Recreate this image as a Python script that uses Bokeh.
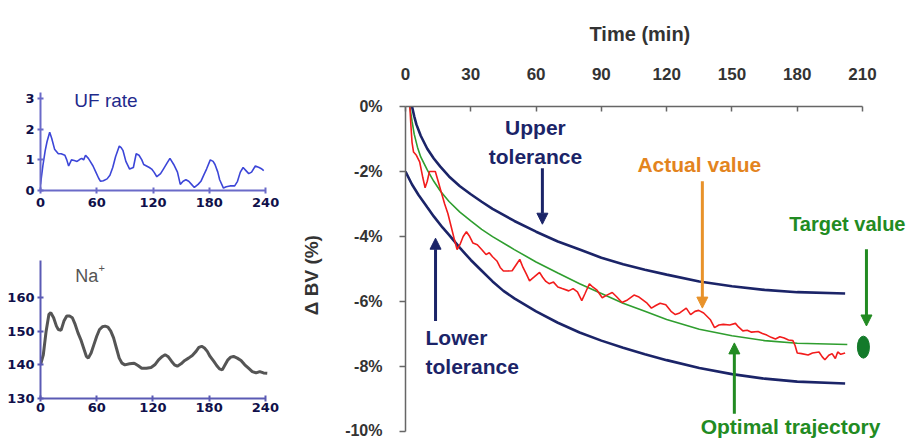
from bokeh.plotting import figure
from bokeh.layouts import row, column
from bokeh.models import Range1d, Label, Arrow, NormalHead
from bokeh.embed import file_html
from bokeh.resources import INLINE

# ---------------- data ----------------
uf_time = [0, 2.5, 5, 7, 9.8, 12, 15, 19, 22, 26, 28, 30, 33, 36, 39, 42, 44, 46, 48, 51, 53, 56, 59, 62, 64, 67,
           71, 74, 77, 80, 84, 86, 88, 91, 95, 99, 102, 105, 108, 110, 113, 116, 118.5, 121, 124, 128, 131, 135,
           138, 142, 146, 149, 152, 155, 158, 161, 164, 168, 171, 174, 177, 181, 184, 186, 189, 191, 195, 198,
           202, 207, 210, 213, 216, 219, 222, 225, 229, 233, 236, 238]
uf_rate = [0.2, 0.8, 1.3, 1.6, 1.9, 1.7, 1.35, 1.2, 1.2, 1.15, 1.0, 0.8, 1.0, 0.98, 0.95, 1.02, 1.05, 1.0, 1.15,
           1.05, 0.95, 0.8, 0.6, 0.4, 0.3, 0.32, 0.38, 0.5, 0.75, 1.1, 1.45, 1.4, 1.3, 0.95, 0.7, 0.75, 1.2, 1.15,
           1.0, 0.85, 0.8, 0.75, 0.7, 0.6, 0.45, 0.55, 0.7, 0.9, 1.05, 0.85, 0.6, 0.2, 0.3, 0.35, 0.3, 0.2, 0.1,
           0.2, 0.3, 0.5, 0.7, 1.0, 0.95, 0.85, 0.6, 0.35, 0.08, 0.12, 0.15, 0.15, 0.3, 0.6, 0.75, 0.65, 0.55,
           0.6, 0.8, 0.75, 0.7, 0.65]

na_time = [0, 3, 6, 9, 11, 14, 17, 19, 22, 25, 28, 31, 34, 37, 40, 43, 46, 49, 51, 54, 57, 60, 63, 66, 69, 72,
           75, 78, 81, 84, 87, 90, 95, 100, 104, 108, 113, 118, 122, 126, 130, 133, 136, 140, 143, 146, 150, 154,
           158, 162, 166, 169, 172, 175, 178, 181, 185, 188, 191, 194, 197, 200, 203, 206, 210, 214, 218, 222,
           226, 230, 234, 238, 242]
na_value = [140, 143, 150, 155, 155.5, 154, 151.5, 150.5, 150.3, 153, 154.5, 154.5, 154, 152, 149.5, 147.5, 145,
            142.5, 142, 143.5, 146, 148.5, 150.5, 151.3, 151.5, 151.2, 150, 148, 145, 142, 140.5, 140, 140.3,
            140.5, 139.8, 139, 139, 139.2, 140, 141.5, 142.5, 143, 142.5, 141, 140, 139.6, 140.3, 141.3, 142,
            142.8, 144, 145.2, 145.5, 145, 144, 142.5, 141, 139.8, 138.8, 138.5, 140, 141.5, 142.3, 142.5, 142,
            141.3, 140, 139, 138, 137.6, 138, 137.6, 137.5]

upper_time = [3, 4, 5, 7, 10, 13, 16, 20, 25, 30, 35, 40, 50, 60, 70, 80, 90, 100, 110, 120, 135, 150, 165, 180, 202]
upper_tol = [0, -0.3, -0.55, -0.9, -1.3, -1.6, -1.85, -2.15, -2.45, -2.7, -2.93, -3.15, -3.52, -3.85, -4.15, -4.4,
             -4.65, -4.85, -5.02, -5.17, -5.38, -5.53, -5.64, -5.71, -5.75]

lower_time = [0, 3, 6, 10, 13, 17, 20, 25, 30, 35, 40, 45, 50, 60, 70, 80, 90, 100, 110, 120, 135, 150, 165, 180, 202]
lower_tol = [-2.0, -2.4, -2.72, -3.1, -3.38, -3.72, -3.95, -4.35, -4.72, -5.05, -5.38, -5.67, -5.9, -6.3, -6.65,
             -6.95, -7.2, -7.42, -7.62, -7.8, -8.04, -8.23, -8.37, -8.46, -8.52]

optimal_time = [2, 3, 4, 5.5, 7, 10, 13, 16, 20, 25, 30, 35, 40, 50, 60, 70, 80, 90, 100, 110, 120, 135, 150, 165,
                180, 203]
optimal = [0, -0.45, -0.85, -1.25, -1.55, -1.95, -2.3, -2.6, -2.92, -3.25, -3.52, -3.78, -4.0, -4.4, -4.78, -5.12,
           -5.45, -5.75, -6.05, -6.3, -6.55, -6.85, -7.05, -7.2, -7.28, -7.32]

actual_time = [2, 2.5, 3, 3.7, 5, 6.5, 8, 9, 10, 11, 13.7, 15, 16.5, 18, 19.5, 21, 22.5, 23.7, 25, 26.5, 28, 29.5,
               31, 33, 35, 37, 38.5, 40, 42, 43.5, 45, 47, 49, 51, 52.5, 54, 55.5, 57, 59, 61.6, 63, 64.5, 66, 68,
               70, 72, 75, 77, 79, 81, 82.5, 84.5, 86, 88, 90.4, 92.5, 95, 97, 99.5, 102, 105, 107, 109, 111, 113,
               115, 117, 119.6, 122, 124, 126, 129, 131, 133, 134.7, 137, 140, 142, 144, 146, 149, 151.6, 153, 155,
               157, 159, 162, 164, 166, 168, 170, 172, 174, 176, 178, 179, 180, 182, 185, 187, 190, 191.5, 192.7,
               194.5, 196, 197.5, 198.6, 200, 202]
actual = [0, -0.6, -1.1, -1.4, -1.5, -1.7, -2.2, -2.5, -2.3, -2.0, -2.0, -2.3, -2.65, -3.0, -3.3, -3.7, -4.1, -4.4,
          -4.25, -4.0, -3.85, -4.0, -4.2, -4.25, -4.4, -4.55, -4.5, -4.62, -4.75, -4.95, -5.06, -5.06, -5.05, -4.85,
          -4.7, -4.95, -5.15, -5.36, -5.25, -5.1, -5.25, -5.38, -5.45, -5.4, -5.55, -5.6, -5.67, -5.6, -5.7, -5.97,
          -5.75, -5.45, -5.55, -5.65, -5.88, -5.8, -5.72, -5.85, -6.03, -5.95, -5.8, -5.85, -5.95, -6.05, -6.2,
          -6.12, -6.05, -6.1, -6.3, -6.4, -6.35, -6.2, -6.4, -6.3, -6.27, -6.35, -6.55, -6.8, -6.72, -6.7, -6.72,
          -6.67, -6.78, -6.9, -6.88, -6.94, -6.92, -6.98, -7.03, -7.1, -7.15, -7.08, -7.12, -7.18, -7.2, -7.35,
          -7.58, -7.6, -7.64, -7.58, -7.55, -7.7, -7.79, -7.65, -7.6, -7.75, -7.55, -7.62, -7.58]

target_time = [210.4]
target_value = [-7.4]

main_xticks = [0, 30, 60, 90, 120, 150, 180, 210]
main_yticks = [0, -2, -4, -6, -8, -10]
small_xticks = [0, 60, 120, 180, 240]
uf_yticks = [0, 1, 2, 3]
na_yticks = [130, 140, 150, 160]

FONT = "DejaVu Sans"
AFONT = "Liberation Sans"
NAVY = "#1B2468"
GREEN = "#228B22"
ORANGE = "#E3841E"


def style_small(p, axis_color, label_color):
    for ax in (p.xaxis[0], p.yaxis[0]):
        ax.axis_line_color = axis_color
        ax.axis_line_width = 2
        ax.major_tick_line_color = axis_color
        ax.major_tick_line_width = 2
        ax.major_tick_in = 3
        ax.major_tick_out = 3
        ax.minor_tick_line_color = None
        ax.major_label_text_font = FONT
        ax.major_label_text_font_style = "bold"
        ax.major_label_text_font_size = "13px"
        ax.major_label_text_color = label_color
    p.xgrid.visible = False
    p.ygrid.visible = False
    p.outline_line_color = None
    p.xaxis.bounds = (0, 240)
    p.xaxis.ticker = small_xticks


# ---------------- UF rate ----------------
uf = figure(width=298, height=225, output_backend="svg", toolbar_location=None,
            x_range=Range1d(0, 253.7), y_range=Range1d(0, 3.2),
            min_border_left=38, min_border_right=20, min_border_top=92, min_border_bottom=35)
uf.line(uf_time, uf_rate, line_color="#3C46D8", line_width=1.6)
style_small(uf, "#6A6AC8", "#10104A")
uf.yaxis.ticker = uf_yticks
uf.yaxis.major_label_standoff = 3
uf.xaxis.major_label_standoff = 4
uf.add_layout(Label(x=36, y=2.94, text="UF rate", text_font=AFONT, text_font_size="19px",
                    text_color="#1F2A8C", text_baseline="middle", text_align="left"))

# ---------------- Na+ ----------------
na = figure(width=298, height=213, output_backend="svg", toolbar_location=None,
            x_range=Range1d(0, 254), y_range=Range1d(130, 171),
            min_border_left=40, min_border_right=20, min_border_top=35, min_border_bottom=40)
na.line(na_time, na_value, line_color="#555555", line_width=3)
style_small(na, "#5A5AB4", "#10104A")
na.yaxis.ticker = na_yticks
na.yaxis.major_label_standoff = 3
na.xaxis.major_label_standoff = 1
na.add_layout(Label(x=37, y=166.3, text="Na", text_font=AFONT, text_font_size="18px",
                    text_color="#555555", text_baseline="middle", text_align="left"))
na.add_layout(Label(x=62, y=168.8, text="+", text_font=AFONT, text_font_size="11px",
                    text_color="#555555", text_baseline="middle", text_align="left"))

# ---------------- main chart ----------------
p = figure(width=610, height=438, output_backend="svg", toolbar_location=None,
           x_range=Range1d(0, 230.2), y_range=Range1d(-10.21, 0),
           x_axis_location="above",
           min_border_left=107, min_border_right=2, min_border_top=105, min_border_bottom=0)
p.xgrid.visible = False
p.ygrid.visible = False
p.outline_line_color = None

p.title.text = "Time (min)"
p.title.align = "left"
p.title.offset = 184
p.title.standoff = 40
p.title.text_font = AFONT
p.title.text_font_style = "bold"
p.title.text_font_size = "20px"
p.title.text_color = "#333333"

p.line(upper_time, upper_tol, line_color=NAVY, line_width=2.6)
p.line(lower_time, lower_tol, line_color=NAVY, line_width=2.6)
p.line(optimal_time, optimal, line_color="#2F9E2F", line_width=1.6)
p.line(actual_time, actual, line_color="#F21C1C", line_width=1.6)
p.ellipse(target_time, target_value, width=12, height=22, width_units="screen", height_units="screen",
          fill_color="#137A2A", line_color="#137A2A")

xa = p.xaxis[0]
xa.bounds = (0, 210)
xa.ticker = main_xticks
xa.major_tick_in = 5
xa.major_tick_out = 0
xa.major_label_standoff = 27
xa.major_label_text_font_size = "17px"

ya = p.yaxis[0]
ya.bounds = (-10, 0)
ya.ticker = main_yticks
ya.major_label_overrides = {v: f"{v}%" for v in main_yticks}
ya.major_tick_in = 0
ya.major_tick_out = 6
ya.major_label_standoff = 17
ya.major_label_text_font_size = "16px"
ya.axis_label = "\u0394 BV  (%)"
ya.axis_label_standoff = 20
ya.axis_label_text_font = AFONT
ya.axis_label_text_font_style = "bold"
ya.axis_label_text_font_size = "19px"
ya.axis_label_text_color = "#333333"

for ax in (xa, ya):
    ax.axis_line_color = "#666666"
    ax.axis_line_width = 1.5
    ax.major_tick_line_color = "#666666"
    ax.major_tick_line_width = 1.5
    ax.minor_tick_line_color = None
    ax.major_label_text_font = AFONT
    ax.major_label_text_font_style = "bold"
    ax.major_label_text_color = "#333333"


def lab(x, y, text, color, align="center", size="21px"):
    p.add_layout(Label(x=x, y=y, text=text, text_font=AFONT, text_font_style="bold", text_font_size=size,
                       text_color=color, text_align=align, text_baseline="middle"))


def arrow(x, y0, y1, color):
    p.add_layout(Arrow(end=NormalHead(size=11, fill_color=color, line_color=color, line_width=1),
                       x_start=x, y_start=y0, x_end=x, y_end=y1, line_color=color, line_width=3))


lab(59.7, -0.64, "Upper", NAVY)
lab(59.7, -1.53, "tolerance", NAVY)
arrow(62.9, -1.90, -3.62, NAVY)

lab(9.2, -7.09, "Lower", NAVY, "left")
lab(9.2, -8.01, "tolerance", NAVY, "left")
arrow(13.8, -6.60, -4.05, NAVY)

lab(135, -1.78, "Actual value", ORANGE)
arrow(136.4, -2.30, -6.20, "#E8922A")

lab(203, -3.62, "Target value", GREEN, size="20px")
arrow(211.8, -4.39, -6.75, GREEN)

lab(176.9, -9.85, "Optimal trajectory", GREEN)
arrow(151.1, -9.45, -7.27, GREEN)

layout = row(column(uf, na), p)
open("out.html", "w").write(file_html(layout, INLINE))
